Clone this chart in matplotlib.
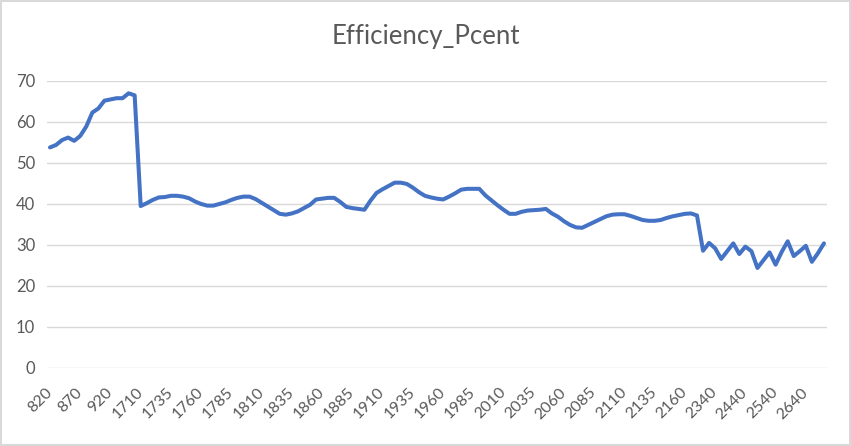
import matplotlib
matplotlib.use("Agg")
import matplotlib.pyplot as plt

# x categories (text axis, Excel-style)
cats_a = list(range(820, 961, 10))
cats_b = list(range(1710, 2171, 5))
cats_c = list(range(2300, 2701, 20))
categories = [str(c) for c in cats_a + cats_b + cats_c]

efficiency = [
    53.8, 54.4, 55.6, 56.2, 55.4, 56.6, 58.9, 62.3, 63.3, 65.2,
    65.5, 65.8, 65.8, 67.0, 66.5, 39.5, 40.2, 41.0, 41.6, 41.7,
    42.0, 42.0, 41.8, 41.4, 40.6, 40.0, 39.6, 39.6, 40.0, 40.4,
    41.0, 41.5, 41.8, 41.8, 41.2, 40.3, 39.4, 38.5, 37.6, 37.4,
    37.7, 38.2, 39.0, 39.8, 41.1, 41.3, 41.5, 41.5, 40.5, 39.3,
    39.0, 38.8, 38.6, 40.8, 42.7, 43.6, 44.4, 45.2, 45.2, 44.9,
    44.0, 42.9, 42.0, 41.6, 41.3, 41.1, 41.8, 42.6, 43.5, 43.7,
    43.7, 43.7, 42.1, 40.9, 39.7, 38.6, 37.6, 37.6, 38.1, 38.4,
    38.5, 38.6, 38.8, 37.7, 36.9, 35.8, 34.9, 34.3, 34.2, 34.9,
    35.6, 36.3, 37.0, 37.4, 37.5, 37.5, 37.1, 36.6, 36.1, 35.9,
    35.9, 36.1, 36.6, 37.0, 37.3, 37.6, 37.7, 37.2, 28.6, 30.5,
    29.2, 26.6, 28.5, 30.4, 27.8, 29.6, 28.5, 24.4, 26.3, 28.2,
    25.2, 28.3, 30.9, 27.3, 28.5, 29.8, 25.9, 28.0, 30.4,
]
y_ticks = [0, 10, 20, 30, 40, 50, 60, 70]

plt.rcParams['font.family'] = ['Lato', 'DejaVu Sans']
text_col = '#595959'

fig = plt.figure(figsize=(8.51, 4.46), dpi=100)
fig.patch.set_edgecolor('#D9D9D9')
fig.patch.set_linewidth(1.5)
ax = fig.add_axes([0.0552, 0.1749, 0.9166, 0.6435])

x = list(range(len(categories)))
ax.plot(x, efficiency, color='#4472C4', linewidth=2.9,
        solid_joinstyle='round', solid_capstyle='round', zorder=3)

ax.set_xlim(-0.5, len(categories) - 0.5)
ax.set_ylim(0, 70)
ax.set_yticks(y_ticks)
ax.grid(axis='y', color='#D9D9D9', linewidth=1)
ax.set_axisbelow(True)
for s in ax.spines.values():
    s.set_visible(False)

ax.set_xticks(x[::5])
ax.set_xticklabels(categories[::5], rotation=45, ha='right', va='center',
                   rotation_mode='anchor', fontsize=11.5, color=text_col)
ax.tick_params(axis='x', length=0, pad=16)
ax.tick_params(axis='y', length=0, pad=8.5, labelsize=12, labelcolor=text_col)

fig.text(0.5, 0.901, 'Efficiency_Pcent', ha='center', va='baseline',
         fontsize=18.5, color=text_col)

fig.savefig('out.png', dpi=100)
